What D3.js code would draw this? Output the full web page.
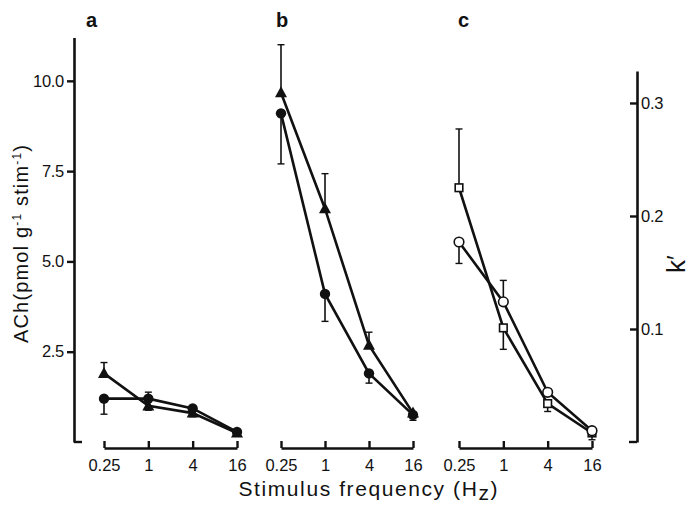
<!DOCTYPE html>
<html>
<head>
<meta charset="utf-8">
<script src="https://cdn.jsdelivr.net/npm/d3@7"></script>
<style>
  body { margin: 0; background: #fff; }
  svg { display: block; }
  text { font-family: "Liberation Sans", Arial, sans-serif; fill: #111; }
</style>
</head>
<body>
<svg id="chart" width="690" height="508"></svg>
<script>
// shared axis values
const freqs = [0.25, 1, 4, 16];
const freqLabels = ["0.25", "1", "4", "16"];
const achTicks = [2.5, 5, 7.5, 10];
const kTicks = [0.1, 0.2, 0.3];
const panelLetters = ["a", "b", "c"];

// panel a (ACh, pmol/g/stim)
const aTriangle = [1.9, 1.0, 0.8, 0.25];
const aTriangleErr = [2.2, 0.88, 0.7, null];
const aCircle = [1.2, 1.2, 0.93, 0.28];
const aCircleErr = [0.77, 1.38, null, null];

// panel b (ACh, pmol/g/stim)
const bTriangle = [9.67, 6.46, 2.68, 0.8];
const bTriangleErr = [11.0, 7.43, 3.04, null];
const bCircle = [9.1, 4.1, 1.9, 0.75];
const bCircleErr = [7.7, 3.34, 1.63, 0.6];

// panel c (k')
const cSquare = [0.225, 0.101, 0.034, 0.008];
const cSquareErr = [0.277, 0.082, 0.027, 0.002];
const cOpenCircle = [0.177, 0.124, 0.044, 0.01];
const cOpenCircleErr = [0.158, 0.143, null, null];

const svg = d3.select("#chart");
const baseY = 442, axisY = 448;

const yL = d3.scaleLinear().domain([0, 11.2]).range([baseY, 37.5]);
const yR = d3.scaleLinear().domain([0, 0.3283]).range([baseY, 71]);

const panels = [
  { range: [104, 237], letterX: 86, y: yL, series: [
    { values: aTriangle, err: aTriangleErr, marker: "triangle" },
    { values: aCircle, err: aCircleErr, marker: "circle" } ] },
  { range: [281, 413], letterX: 276, y: yL, series: [
    { values: bTriangle, err: bTriangleErr, marker: "triangle" },
    { values: bCircle, err: bCircleErr, marker: "circle" } ] },
  { range: [459, 592], letterX: 458, y: yR, series: [
    { values: cSquare, err: cSquareErr, marker: "square" },
    { values: cOpenCircle, err: cOpenCircleErr, marker: "open" } ] }
];

// left ACh axis
const left = svg.append("g").attr("transform", "translate(74,0)")
  .call(d3.axisLeft(yL).tickValues(achTicks).tickFormat(d3.format(".1f"))
    .tickSizeInner(7).tickSizeOuter(0).tickPadding(3));
left.append("line").attr("x1", 0).attr("x2", 8).attr("y1", baseY).attr("y2", baseY);

// right k' axis
const right = svg.append("g").attr("transform", "translate(637,0)")
  .call(d3.axisRight(yR).tickValues(kTicks).tickFormat(d3.format(".1f"))
    .tickSizeInner(-7).tickSizeOuter(0).tickPadding(4));
right.append("line").attr("x1", 0).attr("x2", -8).attr("y1", baseY).attr("y2", baseY);

[left, right].forEach(g => {
  g.select(".domain").attr("stroke", "#111").attr("stroke-width", 2.6);
  g.selectAll("line").attr("stroke", "#111").attr("stroke-width", 2.4);
  g.selectAll("text").attr("font-size", 16.5).attr("letter-spacing", -0.3)
    .attr("font-family", null).style("fill", "#111");
});

panels.forEach((p, k) => {
  const x = d3.scaleLog().base(2).domain([0.25, 16]).range(p.range);
  const y = p.y;

  const xa = svg.append("g").attr("transform", `translate(0,${axisY})`)
    .call(d3.axisBottom(x).tickValues(freqs).tickFormat((d, i) => freqLabels[i])
      .tickSizeInner(-7).tickSizeOuter(0).tickPadding(11));
  xa.select(".domain").attr("stroke", "#111").attr("stroke-width", 2.6);
  xa.selectAll(".tick line").attr("stroke", "#111").attr("stroke-width", 2.4);
  xa.selectAll("text").attr("font-size", 16.5)
    .attr("font-family", null).style("fill", "#111");

  svg.append("text").attr("x", p.letterX).attr("y", 27)
    .attr("font-size", 20).attr("font-weight", "bold").text(panelLetters[k]);

  const line = d3.line().x((d, i) => x(freqs[i])).y(d => y(d));

  p.series.forEach(s => {
    svg.append("path").datum(s.values).attr("d", line)
      .attr("fill", "none").attr("stroke", "#111").attr("stroke-width", 2.6);
  });

  p.series.forEach(s => {
    s.err.forEach((e, i) => {
      if (e == null) return;
      const cx = x(freqs[i]);
      svg.append("line").attr("x1", cx).attr("x2", cx)
        .attr("y1", y(s.values[i])).attr("y2", y(e))
        .attr("stroke", "#111").attr("stroke-width", 1.6);
      svg.append("line").attr("x1", cx - 3.5).attr("x2", cx + 3.5)
        .attr("y1", y(e)).attr("y2", y(e))
        .attr("stroke", "#111").attr("stroke-width", 1.4);
    });
  });

  p.series.forEach(s => {
    const g = svg.append("g");
    s.values.forEach((v, i) => {
      const cx = x(freqs[i]), cy = y(v);
      if (s.marker === "circle") {
        g.append("circle").attr("cx", cx).attr("cy", cy).attr("r", 5.2).attr("fill", "#111");
      } else if (s.marker === "triangle") {
        g.append("path").attr("transform", `translate(${cx},${cy})`)
          .attr("d", "M0,-6.5L6,4.5L-6,4.5Z").attr("fill", "#111");
      } else if (s.marker === "open") {
        g.append("circle").attr("cx", cx).attr("cy", cy).attr("r", 4.8)
          .attr("fill", "#fff").attr("stroke", "#111").attr("stroke-width", 1.6);
      } else {
        g.append("rect").attr("x", cx - 3.8).attr("y", cy - 3.8)
          .attr("width", 7.6).attr("height", 7.6)
          .attr("fill", "#fff").attr("stroke", "#111").attr("stroke-width", 1.6);
      }
    });
  });
});

// axis titles
const yTitle = svg.append("text")
  .attr("transform", "translate(28,244) rotate(-90)")
  .attr("text-anchor", "middle").attr("font-size", 20)
  .attr("textLength", 198).attr("lengthAdjust", "spacing");
yTitle.append("tspan").text("ACh(pmol g");
yTitle.append("tspan").attr("dy", -7).attr("font-size", 12).text("-1");
yTitle.append("tspan").attr("dy", 7).text(" stim");
yTitle.append("tspan").attr("dy", -7).attr("font-size", 12).text("-1");
yTitle.append("tspan").attr("dy", 7).text(")");

svg.append("text")
  .attr("transform", "translate(685,264) rotate(-90)")
  .attr("text-anchor", "middle").attr("font-size", 26).text("k\u2032");

const xTitle = svg.append("text")
  .attr("x", 368).attr("y", 496).attr("text-anchor", "middle")
  .attr("font-size", 21).attr("textLength", 259).attr("lengthAdjust", "spacing");
xTitle.append("tspan").text("Stimulus frequency (H");
xTitle.append("tspan").attr("dy", 4).text("z");
xTitle.append("tspan").attr("dy", -4).text(")");
</script>
</body>
</html>
